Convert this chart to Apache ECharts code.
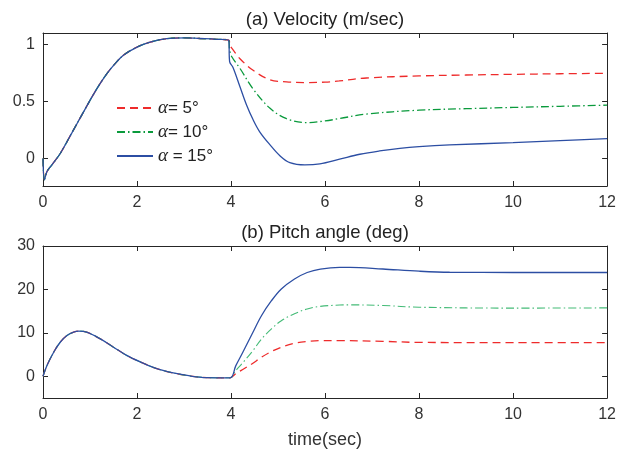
<!DOCTYPE html>
<html>
<head>
<meta charset="utf-8">
<script src="https://cdn.jsdelivr.net/npm/echarts@6/dist/echarts.min.js"></script>
<style>
  html, body { margin: 0; padding: 0; background: #fff; }
  #chart { width: 619px; height: 450px; }
</style>
</head>
<body>
<div id="chart"></div>
<script>
// Axis ticks
const timeTicks = [0, 2, 4, 6, 8, 10, 12];
const velTicks = [0, 0.5, 1];
const pitchTicks = [0, 10, 20, 30];

// Series names (legend)
const names = ['a5', 'a10', 'a15'];
const legendText = { a5: '{g|α}= 5°', a10: '{g|α}= 10°', a15: '{g|α} = 15°' };

// Velocity (m/sec): shared response up to t = 4 s, [t, v]
const velCommon = [
  [0, 0], [0.03, -0.186], [0.085, -0.113], [0.19, -0.055], [0.37, 0.047],
  [0.62, 0.23], [0.83, 0.385], [1.0, 0.51], [1.18, 0.635],
  [1.36, 0.745], [1.53, 0.83], [1.71, 0.905], [2.0, 0.977], [2.28, 1.02],
  [2.63, 1.05], [3.0, 1.058], [3.34, 1.052], [3.7, 1.045], [3.95, 1.037]
];
// Velocity after t = 4 s for each alpha
const vel5 = [
  [3.98, 0.99], [4.02, 0.965], [4.19, 0.875], [4.47, 0.773], [4.83, 0.69],
  [5.18, 0.672], [5.6, 0.666], [6.0, 0.67], [6.3, 0.68], [6.88, 0.706],
  [8, 0.724], [9, 0.732], [10, 0.738], [11, 0.743], [12, 0.747]
];
const vel10 = [
  [3.97, 0.95], [4.02, 0.89], [4.19, 0.79], [4.47, 0.61], [4.83, 0.44],
  [5.18, 0.35], [5.6, 0.315], [6.0, 0.33], [6.3, 0.35], [6.88, 0.39],
  [8, 0.424], [9, 0.437], [10, 0.448], [11, 0.458], [12, 0.468]
];
const vel15 = [
  [3.97, 0.85], [4.04, 0.80], [4.19, 0.63], [4.33, 0.47], [4.47, 0.34],
  [4.61, 0.235], [4.83, 0.12], [5.04, 0.025], [5.25, -0.035], [5.57, -0.055],
  [5.89, -0.046], [6.31, -0.005], [6.74, 0.038], [7.16, 0.067], [7.59, 0.09],
  [8, 0.105], [8.65, 0.12], [10, 0.14], [11, 0.158], [12, 0.175]
];

// Pitch angle (deg): shared response up to t = 4 s
const pitchCommon = [
  [0, 0], [0.085, 2.5], [0.23, 5.6], [0.37, 7.9], [0.51, 9.4], [0.65, 10.15],
  [0.76, 10.4], [0.93, 10.15], [1.22, 8.6], [1.5, 6.7], [1.78, 4.8],
  [2.07, 3.3], [2.42, 1.75], [2.77, 0.76], [3.13, 0.08], [3.48, -0.3], [3.98, -0.35]
];
const pitch5 = [
  [4.1, 0.6], [4.24, 1.5], [4.45, 2.9], [4.65, 4.4], [4.86, 5.7], [5.07, 6.7], [5.35, 7.6],
  [5.62, 8.0], [5.9, 8.2], [6.31, 8.2], [7.23, 8.05], [8, 7.8], [10, 7.76], [12, 7.76]
];
const pitch10 = [
  [4.1, 1.3], [4.24, 3.0], [4.45, 5.7], [4.65, 8.6], [4.86, 10.9], [5.07, 12.8], [5.35, 14.4],
  [5.62, 15.5], [5.9, 16.1], [6.31, 16.4], [6.53, 16.45], [7.23, 16.3], [8, 15.9],
  [10, 15.7], [12, 15.75]
];
const pitch15 = [
  [4.1, 2.4], [4.24, 5.3], [4.45, 9.8], [4.65, 14.0], [4.86, 17.4], [5.07, 20.1], [5.35, 22.4],
  [5.62, 23.9], [5.9, 24.7], [6.31, 25.1], [6.53, 25.1], [7.23, 24.7], [8, 24.2],
  [8.65, 23.95], [10, 23.9], [12, 23.9]
];

const axisColor = '#262626';
const labelColor = '#333';
const fontFamily = 'Liberation Sans, Arial, sans-serif';

const red = '#ee2b2b';
const green = '#0a9a3c';
const greenLight = '#44bb77';
const blue = '#2c4ea3';

function xAxisPair(gridIndex, withName) {
  const base = {
    type: 'value', gridIndex, min: 0, max: 12, interval: 2,
    axisLine: { show: true, onZero: false, lineStyle: { color: axisColor, width: 1 } },
    axisTick: { show: true, inside: true, length: 5, lineStyle: { color: axisColor } },
    splitLine: { show: false }
  };
  return [
    Object.assign({}, base, {
      position: 'bottom',
      axisLabel: { color: labelColor, fontSize: 16, fontFamily, margin: 9 },
      name: withName ? 'time(sec)' : '',
      nameLocation: 'middle', nameGap: 33,
      nameTextStyle: { color: labelColor, fontSize: 18, fontFamily }
    }),
    Object.assign({}, base, { position: 'top', axisLabel: { show: false } })
  ];
}

function yAxisPair(gridIndex, min, max, ticks) {
  const base = {
    type: 'value', gridIndex, min, max,
    axisLine: { show: true, onZero: false, lineStyle: { color: axisColor, width: 1 } },
    axisTick: { show: true, inside: true, length: 5, customValues: ticks, lineStyle: { color: axisColor } },
    splitLine: { show: false }
  };
  return [
    Object.assign({}, base, {
      position: 'left',
      axisLabel: { color: labelColor, fontSize: 16, fontFamily, margin: 8, customValues: ticks }
    }),
    Object.assign({}, base, { position: 'right', axisLabel: { show: false } })
  ];
}

function line(name, data, xi, yi, color, dash, width) {
  return {
    name, type: 'line', xAxisIndex: xi, yAxisIndex: yi, data,
    symbol: 'none', smooth: 0.35,
    lineStyle: { color, width: width || 1.3, type: dash },
    itemStyle: { color },
    z: 2
  };
}

const dashed = [8, 5];
const dashDot = [8, 3, 1.5, 3];

const chart = echarts.init(document.getElementById('chart'), null, { renderer: 'canvas' });
chart.setOption({
  animation: false,
  backgroundColor: '#fff',
  grid: [
    { left: 43, top: 33, width: 565, height: 153 },
    { left: 43, top: 246, width: 565, height: 152 }
  ],
  xAxis: [...xAxisPair(0, false), ...xAxisPair(1, true)],
  yAxis: [...yAxisPair(0, -0.24, 1.1, velTicks), ...yAxisPair(1, -5, 30, pitchTicks)],
  legend: {
    data: names,
    orient: 'vertical',
    left: 111, top: 93,
    itemWidth: 36, itemHeight: 14, itemGap: 4,
    itemStyle: { opacity: 0 },
    formatter: n => legendText[n],
    textStyle: {
      color: '#222', fontSize: 17, fontFamily, lineHeight: 20,
      rich: { g: { fontFamily: 'Liberation Serif, serif', fontStyle: 'italic', fontSize: 19, color: '#222' } }
    },
    selectedMode: false
  },
  graphic: [
    { type: 'text', x: 325, y: 20, style: { text: '(a) Velocity (m/sec)', fill: '#222', font: '18.5px ' + fontFamily, textAlign: 'center', textVerticalAlign: 'middle' } },
    { type: 'text', x: 325, y: 233, style: { text: '(b) Pitch angle (deg)', fill: '#222', font: '18.5px ' + fontFamily, textAlign: 'center', textVerticalAlign: 'middle' } }
  ],
  series: [
    line('a5', velCommon.concat(vel5), 0, 0, red, dashed),
    line('a10', velCommon.concat(vel10), 0, 0, green, dashDot),
    line('a15', velCommon.concat(vel15), 0, 0, blue, 'solid'),
    line('a5', pitchCommon.concat(pitch5), 2, 2, red, dashed),
    line('a10', pitchCommon.concat(pitch10), 2, 2, greenLight, dashDot, 1.1),
    line('a15', pitchCommon.concat(pitch15), 2, 2, blue, 'solid')
  ]
});
</script>
</body>
</html>
